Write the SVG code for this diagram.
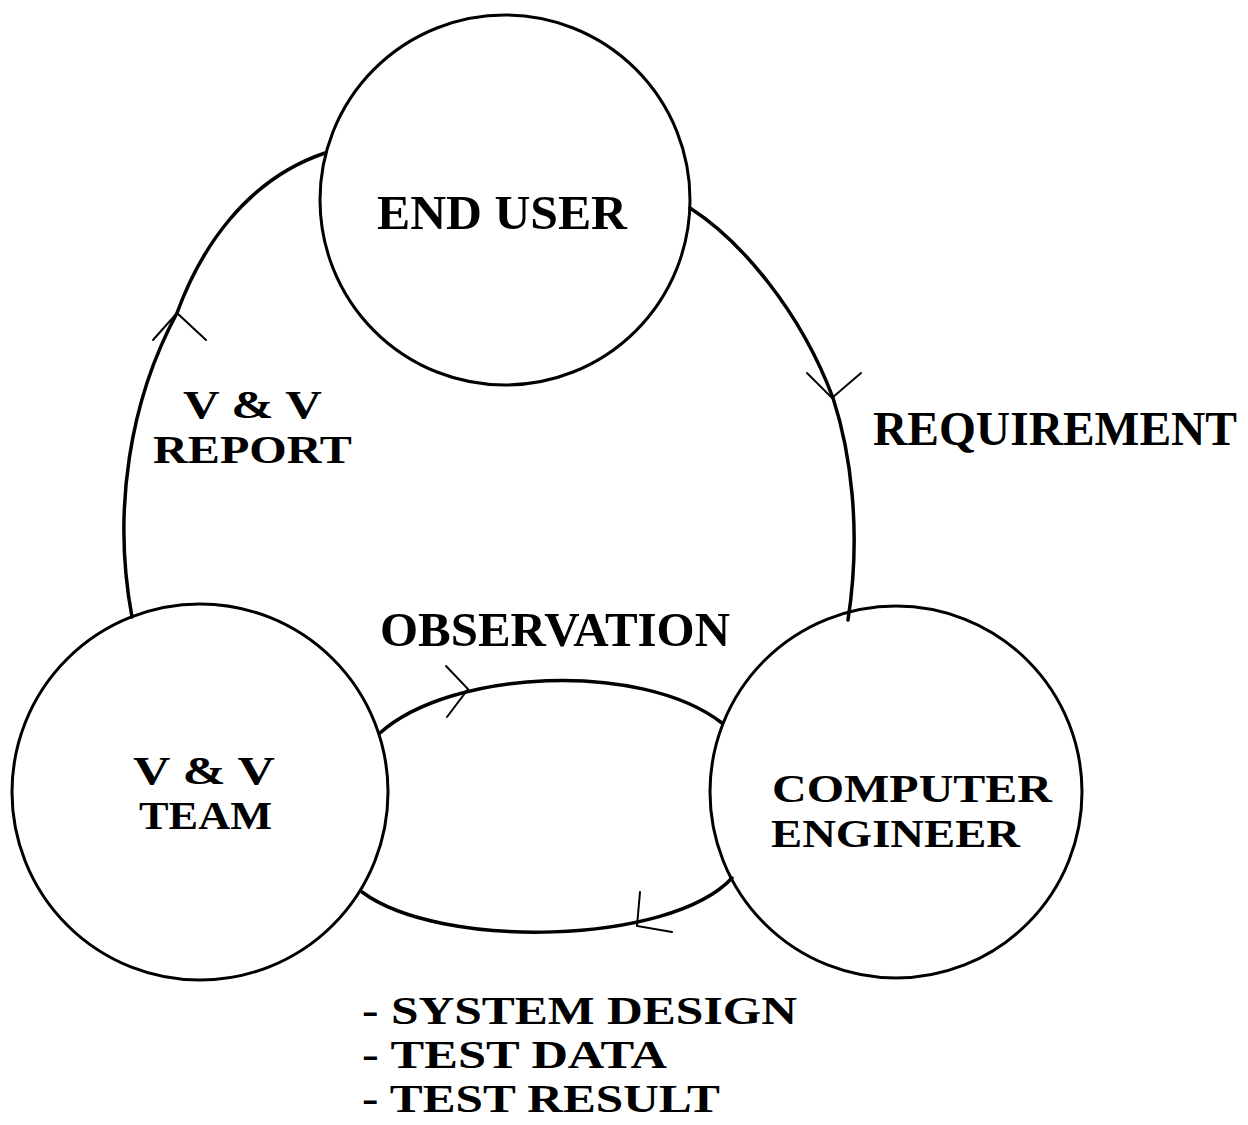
<svg xmlns="http://www.w3.org/2000/svg" width="1248" height="1125" viewBox="0 0 1248 1125">
<style>
.node{fill:none;stroke:#000;stroke-width:3}
.conn{fill:none;stroke:#000;stroke-width:3.5;stroke-linecap:round}
.head{fill:none;stroke:#000;stroke-width:2;stroke-linecap:round;stroke-linejoin:miter}
text{font-family:"Liberation Serif","Times New Roman",serif;font-weight:bold;font-size:48px;fill:#000}
text.st{font-size:39px}
</style>
<rect width="1248" height="1125" fill="#fff"/>
<g id="connectors">
<path class="conn" d="M132,617 C112,510 130,400 177,313 C200,250 245,180 325,153"/>
<polyline class="head" points="153,340 177,313 206,340"/>
<path class="conn" d="M690,208 C740,240 800,310 833,398 C850,450 862,530 848,620"/>
<polyline class="head" points="807,373 832,398 861,373"/>
<path class="conn" d="M380,733 C450,670 640,660 722,723"/>
<polyline class="head" points="446,666 468,689 447,717"/>
<path class="conn" d="M732,878 C670,945 440,950 362,892"/>
<polyline class="head" points="640,892 637,926 672,932"/>
<text x="873" y="445" textLength="364" lengthAdjust="spacingAndGlyphs">REQUIREMENT</text>
<text x="380" y="646" textLength="350" lengthAdjust="spacingAndGlyphs">OBSERVATION</text>
<text class="st" x="183" y="418" textLength="139" lengthAdjust="spacingAndGlyphs">V &amp; V</text>
<text class="st" x="153" y="463" textLength="199" lengthAdjust="spacingAndGlyphs">REPORT</text>
<text class="st" x="362" y="1024" textLength="435" lengthAdjust="spacingAndGlyphs">- SYSTEM DESIGN</text>
<text class="st" x="362" y="1068" textLength="305" lengthAdjust="spacingAndGlyphs">- TEST DATA</text>
<text class="st" x="362" y="1112" textLength="358" lengthAdjust="spacingAndGlyphs">- TEST RESULT</text>
</g>
<g id="end-user">
<circle class="node" cx="505" cy="200" r="185"/>
<text x="377" y="229" textLength="250" lengthAdjust="spacingAndGlyphs">END USER</text>
</g>
<g id="vv-team">
<circle class="node" cx="200" cy="792" r="188"/>
<text class="st" x="133" y="784" textLength="142" lengthAdjust="spacingAndGlyphs">V &amp; V</text>
<text class="st" x="139" y="829" textLength="133" lengthAdjust="spacingAndGlyphs">TEAM</text>
</g>
<g id="computer-engineer">
<circle class="node" cx="896" cy="792" r="186"/>
<text class="st" x="772" y="802" textLength="280" lengthAdjust="spacingAndGlyphs">COMPUTER</text>
<text class="st" x="771" y="847" textLength="249" lengthAdjust="spacingAndGlyphs">ENGINEER</text>
</g>
</svg>
